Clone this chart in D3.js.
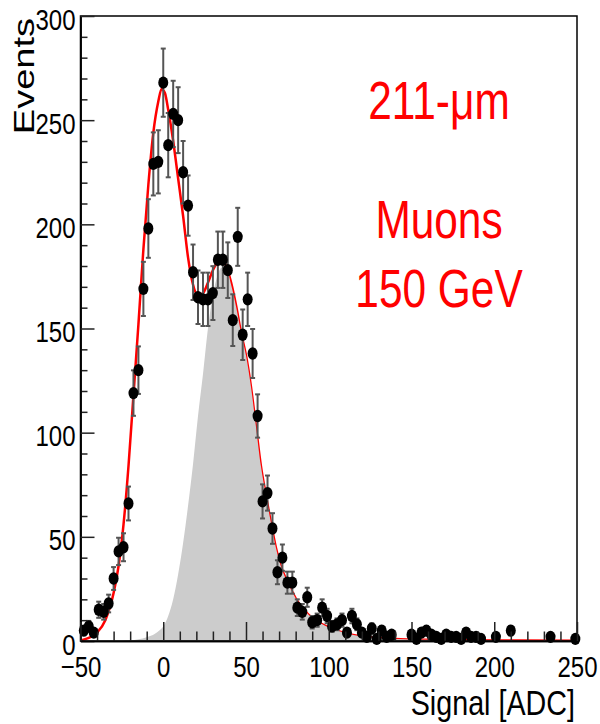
<!DOCTYPE html>
<html>
<head>
<meta charset="utf-8">
<script src="https://cdn.jsdelivr.net/npm/d3@7"></script>
<style>
  html, body { margin: 0; padding: 0; background: #fff; }
  svg { display: block; }
  text { font-family: "Liberation Sans", Arial, Helvetica, sans-serif; }
</style>
</head>
<body>
<svg id="chart" width="600" height="724"></svg>
<script>
// Measured spectrum: bin centre (ADC) and event count per bin
const adcBins = [-48,-45,-42,-39,-36,-33,-30,-27,-24,-21,
                 -18,-15,-12,-9,-6,-3,0,3,6,9,
                 12,15,18,21,24,27,30,33,36,39,
                 42,45,48,51,54,57,60,63,66,69,
                 72,75,78,81,84,87,90,93,96,99,
                 102,105,108,111,114,117,120,123,126,129,
                 132,135,138,
                 150,153,156,159,162,165,168,171,174,177,180,183,186,189,192,
                 201,210,234,249];
const events = [5,7,4,15,14,18,30,43,45,66,
                119,130,169,198,229,230,268,238,253,250,
                225,209,177,165,164,164,167,183,183,178,
                154,194,147,164,138,108,67,71,54,33,
                40,28,28,16,14,21,9,10,16,12,
                7,8,10,4,12,8,4,2,6,1,
                5,2,3,
                3,1,4,5,3,2,1,3,2,2,1,4,2,2,1,
                2,5,2,1];

// Total fit (pedestal + muon signal)
const fitX     = [-50,-45,-40,-35,-30,-27,-24,-21,-18,-15,-12,-9,-6,-3,-1,1,3,6,9,12,15,18,21,24,27,30,33,35,38,41,44,47,50,53,56,59,62,65,68,71,74,77,80,85,90,95,100,105,110,120,130,140,160,200,250];
const fitTotal = [0.3,1.5,4,10,23,36,56,84,118,152,188,219,244,259,265,263,255,240,222,204,184,171,166,167,172,178,182,183,180,172,161,148,137,122,103,84,70,57,45,36,30,25,20.5,15,11,8.5,6.5,5,3.8,2.2,1.4,1,0.6,0.3,0.15];

// Muon signal component (shaded)
const muonX      = [-30,-20,-15,-10,-5,-2,0,3,6,9,12,15,18,21,24,27,30,33,35,38,41,44,47,50,53,56,59,62,65,68,71,74,77,80,85,90,95,100,105,110,120,130,140,160,200,250];
const muonSignal = [0,0.3,0.8,1.8,3.5,5.3,7,12,20,32,47,65,85,108,128,150,166,176,179,179,171,160.5,148,137,122,103,84,70,57,45,36,30,25,20.5,15,11,8.5,6.5,5,3.8,2.2,1.4,1,0.6,0.3,0.15];

const xMajorTicks = [-50,0,50,100,150,200,250];
const xMinorTicks = [-40,-30,-20,-10,10,20,30,40,60,70,80,90,110,120,130,140,160,170,180,190,210,220,230,240];
const yMajorTicks = [0,50,100,150,200,250,300];
const yMinorTicks = [10,20,30,40,60,70,80,90,110,120,130,140,160,170,180,190,210,220,230,240,260,270,280,290];

const annotations = ["211-μm", "Muons", "150 GeV"];
const xTitle = "Signal [ADC]";
const yTitle = "Events";

const frame = { left: 80.5, right: 577, top: 16, bottom: 641 };
const x = d3.scaleLinear().domain([-50, 250]).range([frame.left, frame.right]);
const y = d3.scaleLinear().domain([0, 300]).range([frame.bottom, frame.top]);

const svg = d3.select("#chart");

// total fit curve
const line = d3.line().x(d => x(d[0])).y(d => y(d[1])).curve(d3.curveMonotoneX);
svg.append("path")
  .datum(d3.zip(fitX, fitTotal))
  .attr("d", line)
  .attr("fill", "none")
  .attr("stroke", "#ff0000")
  .attr("stroke-width", 2.5);

// muon signal component
const area = d3.area().x(d => x(d[0])).y0(y(0)).y1(d => y(d[1])).curve(d3.curveMonotoneX);
svg.append("path")
  .datum(d3.zip(muonX, muonSignal))
  .attr("d", area)
  .attr("fill", "#cccccc");

// data points with Poisson error bars
const pts = d3.zip(adcBins, events);
const err = svg.append("g").attr("stroke", "#555").attr("stroke-width", 2);
err.selectAll("line.bar").data(pts).join("line").attr("class", "bar")
  .attr("x1", d => x(d[0])).attr("x2", d => x(d[0]))
  .attr("y1", d => y(d[1] - Math.sqrt(d[1]))).attr("y2", d => y(d[1] + Math.sqrt(d[1])));
err.selectAll("line.capHi").data(pts).join("line").attr("class", "capHi")
  .attr("x1", d => x(d[0]) - 2.5).attr("x2", d => x(d[0]) + 2.5)
  .attr("y1", d => y(d[1] + Math.sqrt(d[1]))).attr("y2", d => y(d[1] + Math.sqrt(d[1])));
err.selectAll("line.capLo").data(pts).join("line").attr("class", "capLo")
  .attr("x1", d => x(d[0]) - 2.5).attr("x2", d => x(d[0]) + 2.5)
  .attr("y1", d => y(d[1] - Math.sqrt(d[1]))).attr("y2", d => y(d[1] - Math.sqrt(d[1])));

svg.append("g").selectAll("ellipse").data(pts).join("ellipse")
  .attr("cx", d => x(d[0])).attr("cy", d => y(d[1]))
  .attr("rx", 5).attr("ry", 6.2)
  .attr("fill", "#000");

// frame
svg.append("rect")
  .attr("x", frame.left).attr("y", frame.top)
  .attr("width", frame.right - frame.left).attr("height", frame.bottom - frame.top)
  .attr("fill", "none").attr("stroke", "#000").attr("stroke-width", 1.5);

function styleAxis(g) {
  g.attr("font-size", null).attr("font-family", null);
  g.select(".domain").attr("stroke", "#000").attr("stroke-width", 1.5);
  g.selectAll(".tick line").attr("stroke", "#222").attr("stroke-width", 1.5);
}

// y axis (ticks inward)
const gyMinor = svg.append("g").attr("transform", `translate(${frame.left},0)`)
  .call(d3.axisLeft(y).tickValues(yMinorTicks).tickSize(-7).tickSizeOuter(0).tickFormat(() => ""));
styleAxis(gyMinor);
const gy = svg.append("g").attr("transform", `translate(${frame.left},0)`)
  .call(d3.axisLeft(y).tickValues(yMajorTicks).tickSize(-14).tickSizeOuter(0));
styleAxis(gy);
gy.selectAll(".tick text")
  .attr("x", null).attr("dy", null)
  .attr("transform", "translate(-5,13) scale(0.8,1)")
  .attr("fill", "#000")
  .style("font-size", "30px");

// x axis (ticks inward)
const gxMinor = svg.append("g").attr("transform", `translate(0,${frame.bottom})`)
  .call(d3.axisBottom(x).tickValues(xMinorTicks).tickSize(-9.5).tickSizeOuter(0).tickFormat(() => ""));
styleAxis(gxMinor);
const gx = svg.append("g").attr("transform", `translate(0,${frame.bottom})`)
  .call(d3.axisBottom(x).tickValues(xMajorTicks).tickSize(-19).tickSizeOuter(0));
styleAxis(gx);
gx.selectAll(".tick text")
  .attr("y", null).attr("dy", null)
  .attr("transform", "translate(0,36) scale(0.8,1)")
  .attr("fill", "#000")
  .style("font-size", "30px");

// axis titles
svg.append("text")
  .attr("transform", "translate(575,715) scale(0.82,1)")
  .attr("text-anchor", "end")
  .style("font-size", "35px")
  .attr("fill", "#000")
  .text(xTitle);
svg.append("text")
  .attr("transform", "translate(34,18) scale(0.8,1) rotate(-90)")
  .attr("text-anchor", "end")
  .style("font-size", "38px")
  .attr("fill", "#000")
  .text(yTitle);

// annotation
const annoBaselines = [119, 238, 307];
svg.append("g").selectAll("text").data(annotations).join("text")
  .attr("transform", (d, i) => `translate(439,${annoBaselines[i]}) scale(0.8,1)`)
  .attr("text-anchor", "middle")
  .style("font-size", "53px")
  .attr("fill", "#ff0000")
  .text(d => d);
</script>
</body>
</html>
